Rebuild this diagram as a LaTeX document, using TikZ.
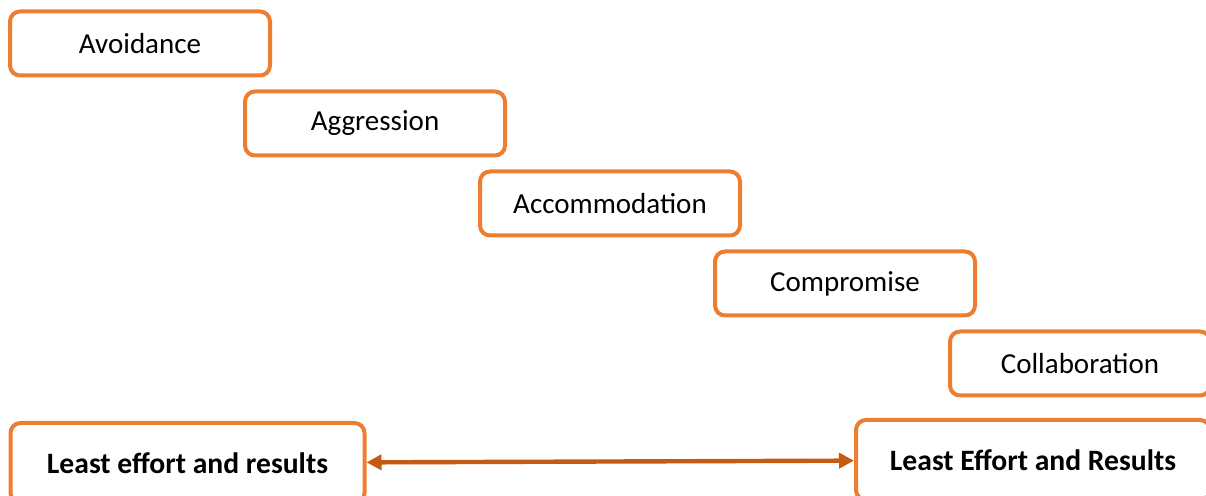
\documentclass[tikz,border=0pt]{standalone}
\usepackage{fontspec}
\setmainfont{Carlito}
\usepackage{tikz}
\usetikzlibrary{arrows.meta,positioning}
\usepackage{xcolor}
\definecolor{boxline}{HTML}{ED7D31}
\definecolor{arrline}{HTML}{C55A11}

\begin{document}
\begin{tikzpicture}[node distance=6pt and -14.5pt, >={Triangle[length=7.5pt,width=7.5pt]},
  box/.style={draw=boxline, line width=2pt, rounded corners=5pt, align=center,
    minimum width=130pt, minimum height=32pt, font=\fontsize{14.5}{16}\selectfont, fill=white},
  endbox/.style={box, minimum width=177pt, minimum height=40pt,
    font=\fontsize{14.8}{16}\selectfont\bfseries},
  arr/.style={<->, draw=arrline, line width=2.2pt}]
  \useasboundingbox (0,0) rectangle (603pt,-248pt);
  \node[box] (avoid) at (70pt,-21.75pt) {Avoidance};
  \node[box, below right=of avoid] (aggr) {Aggression};
  \node[box, below right=of aggr] (accom) {Accommodation};
  \node[box, below right=of accom] (comp) {Compromise};
  \node[box, below right=of comp] (collab) {Collaboration};
  \node[endbox] (low) at (93.75pt,-231.5pt) {Least effort and results};
  \node[endbox] (high) at (516.5pt,-230pt) {Least Effort and Results};
  \draw[arr] (low) -- (high);
\end{tikzpicture}
\end{document}
